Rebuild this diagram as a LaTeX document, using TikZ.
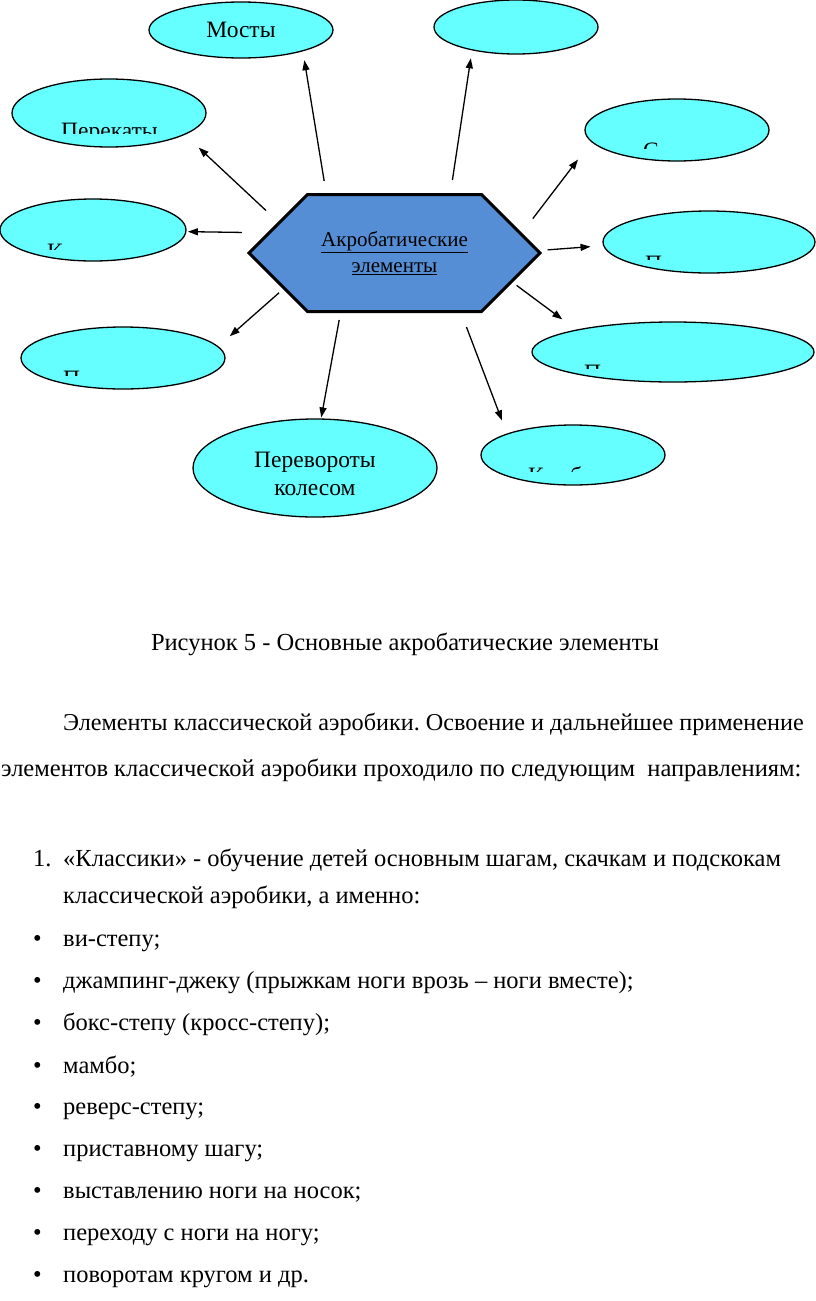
\documentclass[tikz,border=0pt]{standalone}
\usepackage{fontspec}
\setmainfont{Liberation Serif}
\usepackage{tikz}
\usetikzlibrary{arrows.meta,shapes.geometric,shapes.symbols}

\definecolor{ovalfill}{RGB}{102,255,255}
\definecolor{hexfill}{RGB}{85,142,213}
\newcommand{\blt}{\makebox[30pt][l]{\textbullet}}

\begin{document}
\frenchspacing
\begin{tikzpicture}[
    x=1pt, y=-1pt,
    every node/.style={font=\fontsize{24.5}{28}\selectfont, inner sep=0pt},
    oval/.style={ellipse, draw, line width=1.3pt, fill=ovalfill},
    ovaltext/.style={font=\fontsize{23.5}{28}\selectfont, anchor=base west},
    hexbox/.style={signal, signal to=west and east, signal pointer angle=90, draw, line width=3pt, fill=hexfill, minimum width=291pt, minimum height=117pt, align=center, font=\fontsize{21}{25.5}\selectfont},
    arr/.style={-{Triangle[length=10pt,width=7pt]}, line width=1.3pt},
    line/.style={anchor=base west}
]
\useasboundingbox (0,0) rectangle (816,1301);

% centre
\node[hexbox] (hex) at (394.5,253) {\underline{Акробатические}\\\underline{элементы}};

% ovals
\node[oval, minimum width=184pt, minimum height=56pt, font=\fontsize{23.5}{28}\selectfont] (most) at (241,30) {Мосты};
\node[oval, minimum width=164pt, minimum height=54pt] (empty) at (516,27) {};
\node[oval, minimum width=194pt, minimum height=68pt] (perek) at (109,113) {};
\node[oval, minimum width=186pt, minimum height=62pt] (kuv) at (93,230) {};
\node[oval, minimum width=204pt, minimum height=62pt] (pl) at (123,358) {};
\node[oval, minimum width=184pt, minimum height=62pt] (sr) at (677,130) {};
\node[oval, minimum width=212pt, minimum height=62pt] (dr) at (709,242) {};
\node[oval, minimum width=282pt, minimum height=60pt] (pr) at (673,352) {};
\node[oval, minimum width=184pt, minimum height=60pt] (kb) at (573,455) {};
\node[oval, minimum width=244pt, minimum height=98pt] (perev) at (315,468) {};
\node[align=center, font=\fontsize{23.5}{28}\selectfont] (perevtxt) at (315,473.5) {Перевороты\\колесом};

% cut-off labels
\begin{scope}
\clip (0,100) rectangle (816,133.3);
\node[font=\fontsize{23.5}{28}\selectfont, anchor=base] (perektxt) at (109.5,138) {Перекаты};
\end{scope}
\begin{scope}
\clip (0,240) rectangle (300,249);
\node[ovaltext] (kuvtxt) at (47,259.5) {К};
\end{scope}
\begin{scope}
\clip (0,365) rectangle (300,375);
\node[ovaltext] (pltxt) at (63,386.7) {П};
\end{scope}
\begin{scope}
\clip (600,138) rectangle (816,148.3);
\node[ovaltext] (srtxt) at (643,158.8) {С};
\end{scope}
\begin{scope}
\clip (600,250) rectangle (816,259.3);
\node[ovaltext] (drtxt) at (645,271) {П};
\end{scope}
\begin{scope}
\clip (560,360) rectangle (816,368.3);
\node[ovaltext] (prtxt) at (584,380) {П};
\end{scope}
\begin{scope}
\clip (500,462) rectangle (660,471.7);
\node[ovaltext] (kbtxt) at (528,483.3) {К};
\node[ovaltext] (kbtxt2) at (570,483.3) {б};
\end{scope}

% arrows
\draw[arr, shorten <=13pt, shorten >=9pt] (hex.139.8) -- (most.-19.6);
\draw[arr, shorten <=13pt, shorten >=8pt] (hex.47.5) -- (empty.208.3);
\draw[arr, shorten <=16.5pt, shorten >=18.8pt] (hex.165.8) -- (perek.-16.9);
\draw[arr, shorten <=25.3pt, shorten >=1.4pt] (hex.171.1) -- (kuv.-1.9);
\draw[arr, shorten <=5.3pt, shorten >=15.2pt] (hex.198.3) -- (pl.7.6);
\draw[arr, shorten <=7.1pt, shorten >=1pt] (hex.228.2) -- (perev.83.5);
\draw[arr, shorten <=15pt, shorten >=14pt] (hex.-42.4) -- (kb.162.2);
\draw[arr, shorten <=4.9pt, shorten >=17.2pt] (hex.-14.9) -- (pr.167.1);
\draw[arr, shorten <=8pt, shorten >=12.6pt] (hex.1.5) -- (dr.182.8);
\draw[arr, shorten <=17.8pt, shorten >=22pt] (hex.9.6) -- (sr.188.9);

% caption and text
\node[anchor=base] (cap) at (405,650) {Рисунок 5 - Основные акробатические элементы};
\node[line, font=\fontsize{24.2}{28}\selectfont] (p1) at (63,730) {Элементы классической аэробики. Освоение и дальнейшее применение};
\node[line] (p2) at (1,776) {элементов классической аэробики проходило по следующим\ \ направлениям:};
\node[line] (n1) at (33,866) {1.};
\node[line] (l1) at (63,866) {«Классики» - обучение детей основным шагам, скачкам и подскокам};
\node[line] (l2) at (63,903) {классической аэробики, а именно:};
\node[line] (b1) at (33,946) {\blt ви-степу;};
\node[line] (b2) at (33,988) {\blt джампинг-джеку (прыжкам ноги врозь – ноги вместе);};
\node[line] (b3) at (33,1030) {\blt бокс-степу (кросс-степу);};
\node[line] (b4) at (33,1073) {\blt мамбо;};
\node[line] (b5) at (33,1114) {\blt реверс-степу;};
\node[line] (b6) at (33,1156) {\blt приставному шагу;};
\node[line] (b7) at (33,1198) {\blt выставлению ноги на носок;};
\node[line] (b8) at (33,1240) {\blt переходу с ноги на ногу;};
\node[line] (b9) at (33,1282) {\blt поворотам кругом и др.};
\end{tikzpicture}
\end{document}
